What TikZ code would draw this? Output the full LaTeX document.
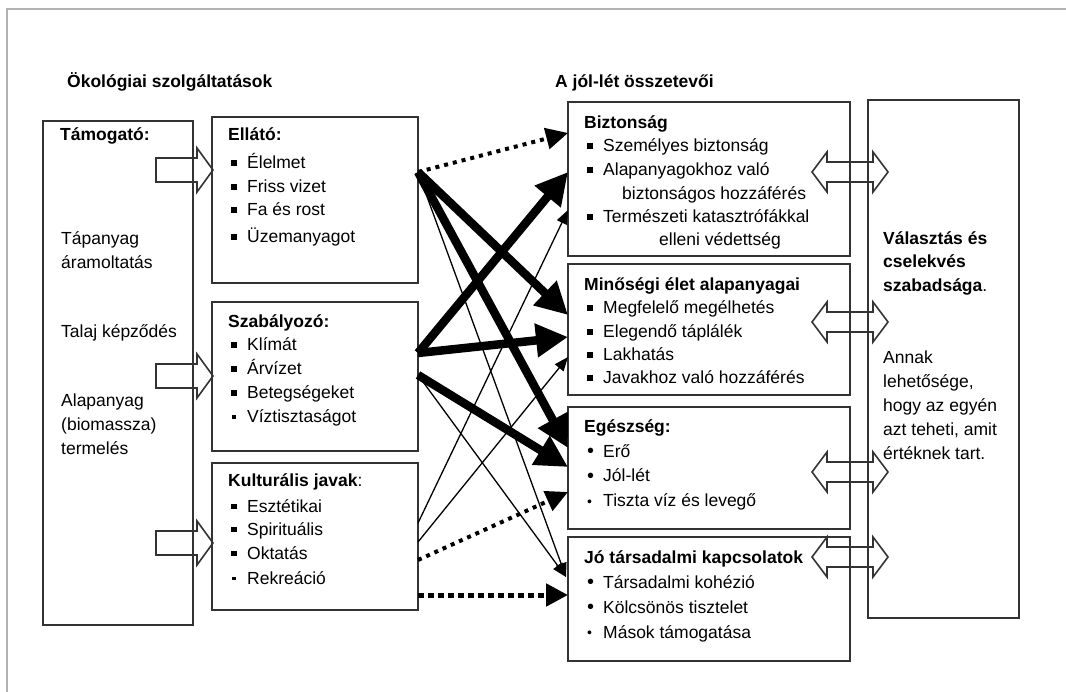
\documentclass[tikz,border=0pt]{standalone}
\usepackage{fontspec}
\setmainfont{Liberation Sans}
\usetikzlibrary{arrows.meta}
\newcommand\sqb{\makebox[16pt][l]{\rule[3pt]{5.5pt}{5.5pt}}}
\newcommand\sqs{\makebox[16pt][l]{\hspace{1pt}\rule[4pt]{3.5pt}{3.5pt}}}
\newcommand\rdb{\makebox[16pt][l]{\fontsize{20pt}{20pt}\selectfont\raisebox{-0.5pt}{•}}}
\newcommand\rds{\makebox[16pt][l]{\fontsize{14pt}{14pt}\selectfont\raisebox{1pt}{•}}}
\begin{document}
\begin{tikzpicture}[x=1pt,y=-1pt,
  box/.style={draw=black!80, line width=2pt, inner sep=0pt, outer sep=0pt},
  txt/.style={anchor=base west, inner sep=0pt, font=\fontsize{17.5pt}{20pt}\selectfont},
  btxt/.style={txt, font=\fontsize{17.5pt}{20pt}\selectfont\bfseries},
  blk/.style={draw=black!80, line width=1.6pt, line join=miter},
  thickarr/.style={line width=8.5pt, -{Triangle[length=32pt,width=32pt]}},
  thinarr/.style={line width=1.3pt, -{Triangle[length=14pt,width=11pt]}},
  dotarr/.style={line width=4pt, dash pattern=on 4pt off 5pt, -{Triangle[length=22pt,width=21pt]}},
  dasharr/.style={line width=5pt, dash pattern=on 6pt off 4pt, -{Triangle[length=22pt,width=22pt]}}]
\useasboundingbox (0,0) rectangle (1066,692);
\fill[white] (0,0) rectangle (1066,692);
% frame
\draw[black!30, line width=2pt] (7,692) -- (7,9) -- (1066,9);

% headings
\node[btxt] (h1) at (67,88) {Ökológiai szolgáltatások};
\node[btxt] (h2) at (555,88) {A jól-lét összetevői};

% boxes
\node[box, minimum width=150pt, minimum height=504pt] (tam) at (118,373) {};
\node[box, minimum width=206pt, minimum height=166pt] (ell) at (315,200) {};
\node[box, minimum width=206pt, minimum height=149pt] (sza) at (315,376.5) {};
\node[box, minimum width=206pt, minimum height=147pt] (kul) at (315,536.5) {};
\node[box, minimum width=282pt, minimum height=154pt] (biz) at (709,179) {};
\node[box, minimum width=282pt, minimum height=131pt] (min) at (709,329.5) {};
\node[box, minimum width=282pt, minimum height=122pt] (ege) at (709,468) {};
\node[box, minimum width=282pt, minimum height=124pt] (jot) at (709,599) {};
\node[box, minimum width=151pt, minimum height=518pt] (val) at (943.5,359) {};

% Tamogato texts
\node[btxt] (ta0) at (60,141) {Támogató:};
\node[txt] (ta1) at (61,245) {Tápanyag};
\node[txt] (ta2) at (61,269) {áramoltatás};
\node[txt] (ta3) at (61,338) {Talaj képződés};
\node[txt] (ta4) at (61,407) {Alapanyag};
\node[txt] (ta5) at (61,431) {(biomassza)};
\node[txt] (ta6) at (61,455) {termelés};

% Ellato
\node[btxt] (e0) at (228,141) {Ellátó:};
\node[txt] (e1) at (231,169) {\sqb Élelmet};
\node[txt] (e2) at (231,193) {\sqb Friss vizet};
\node[txt] (e3) at (231,216) {\sqb Fa és rost};
\node[txt] (e4) at (231,243) {\sqb Üzemanyagot};

% Szabalyozo
\node[btxt] (s0) at (228,328) {Szabályozó:};
\node[txt] (s1) at (231,351) {\sqb Klímát};
\node[txt] (s2) at (231,375) {\sqb Árvízet};
\node[txt] (s3) at (231,399) {\sqb Betegségeket};
\node[txt] (s4) at (231,423) {\sqs Víztisztaságot};

% Kulturalis
\node[txt] (k0) at (228,486) {\textbf{Kulturális javak}:};
\node[txt] (k1) at (231,512) {\sqb Esztétikai};
\node[txt] (k2) at (231,535) {\sqb Spirituális};
\node[txt] (k3) at (231,559) {\sqb Oktatás};
\node[txt] (k4) at (231,584) {\sqs Rekreáció};

% Biztonsag
\node[btxt] (b0) at (584,129) {Biztonság};
\node[txt] (b1) at (587,152) {\sqb Személyes biztonság};
\node[txt] (b2) at (587,176) {\sqb Alapanyagokhoz való};
\node[txt] (b3) at (622,200) {biztonságos hozzáférés};
\node[txt] (b4) at (587,223) {\sqb Természeti katasztrófákkal};
\node[txt] (b5) at (659,246) {elleni védettség};

% Minosegi
\node[btxt] (m0) at (584,291) {Minőségi élet alapanyagai};
\node[txt] (m1) at (587,314) {\sqb Megfelelő megélhetés};
\node[txt] (m2) at (587,338) {\sqb Elegendő táplálék};
\node[txt] (m3) at (587,361) {\sqb Lakhatás};
\node[txt] (m4) at (587,384) {\sqb Javakhoz való hozzáférés};

% Egeszseg
\node[btxt] (g0) at (584,433) {Egészség:};
\node[txt] (g1) at (587,457) {\rdb Erő};
\node[txt] (g2) at (587,482) {\rdb Jól-lét};
\node[txt] (g3) at (587,507) {\rds Tiszta víz és levegő};

% Jo tarsadalmi
\node[btxt] (j0) at (584,563) {Jó társadalmi kapcsolatok};
\node[txt] (j1) at (587,588) {\rdb Társadalmi kohézió};
\node[txt] (j2) at (587,613) {\rdb Kölcsönös tisztelet};
\node[txt] (j3) at (587,638) {\rds Mások támogatása};

% Valasztas
\node[btxt] (v1) at (883,245) {Választás és};
\node[btxt] (v2) at (883,268) {cselekvés};
\node[txt] (v3) at (883,292) {\textbf{szabadsága}.};
\node[txt] (v4) at (883,364) {Annak};
\node[txt] (v5) at (883,388) {lehetősége,};
\node[txt] (v6) at (883,412) {hogy az egyén};
\node[txt] (v7) at (883,436) {azt teheti, amit};
\node[txt] (v8) at (883,460) {értéknek tart.};

% left block arrows
\foreach \c in {170,376,543}
  \draw[blk] (156,\c-12) -- (197,\c-12) -- (197,\c-22) -- (213,\c) -- (197,\c+22) -- (197,\c+12) -- (156,\c+12) -- cycle;

% double arrows
\foreach \c in {172,322,472,557}
  \draw[blk] (812,\c) -- (827,\c-20) -- (827,\c-10) -- (873,\c-10) -- (873,\c-20) -- (888,\c) -- (873,\c+20) -- (873,\c+10) -- (827,\c+10) -- (827,\c+20) -- cycle;

% connector coordinates
\coordinate (sE) at (418,172);
\coordinate (sS1) at (418,353);
\coordinate (sS2) at (418,375);
\coordinate (sK1) at (418,523);
\coordinate (sK2) at (418,542);
\coordinate (sK3) at (418,560);
\coordinate (sK4) at (418,595);
\coordinate (tB1) at (568,133);
\coordinate (tB2) at (568,172);
\coordinate (tB3) at (568,210);
\coordinate (tM1) at (568,315);
\coordinate (tM2) at (568,337);
\coordinate (tM3) at (568,357);
\coordinate (tG1) at (568,448);
\coordinate (tG2) at (568,467);
\coordinate (tG3) at (568,492);
\coordinate (tJ1) at (566,577);
\coordinate (tJ2) at (568,595);

% thin connectors
\draw[thinarr] (sE) -- (tJ1);
\draw[thinarr] (sS2) -- (tJ1);
\draw[thinarr] (sK1) -- (tB3);
\draw[thinarr] (sK2) -- (tM3);
% dotted
\draw[dotarr] (sE) -- (tB1);
\draw[dotarr] (sK3) -- (tG3);
\draw[dasharr] (sK4) -- (tJ2);
% thick
\draw[thickarr] (sE) -- (tM1);
\draw[thickarr] (sE) -- (tG1);
\draw[thickarr] (sS1) -- (tB2);
\draw[thickarr] (sS1) -- (tM2);
\draw[thickarr] (sS2) -- (tG2);
\end{tikzpicture}
\end{document}
